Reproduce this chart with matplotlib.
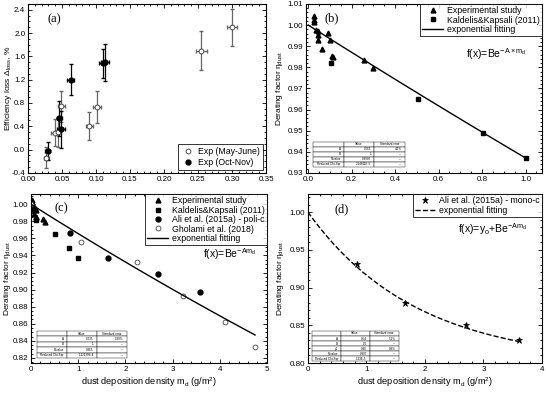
import numpy as np
import matplotlib.pyplot as plt

plt.rcParams['font.family'] = ['Liberation Sans', 'DejaVu Sans']
plt.rcParams['mathtext.fontset'] = 'custom'
plt.rcParams['mathtext.rm'] = 'Liberation Sans'
plt.rcParams['mathtext.it'] = 'Liberation Sans'

# (a) efficiency loss
may_x = [0.027, 0.039, 0.044, 0.049, 0.090, 0.102, 0.255, 0.300]
may_y = [-0.14, 0.29, 0.30, 0.74, 0.40, 0.73, 1.70, 2.10]
may_yerr = [0.18, 0.23, 0.25, 0.27, 0.24, 0.27, 0.33, 0.32]
may_xerr = [0.004, 0.005, 0.005, 0.005, 0.005, 0.006, 0.008, 0.008]
oct_x = [0.029, 0.046, 0.049, 0.063, 0.110, 0.113]
oct_y = [-0.02, 0.54, 0.35, 1.20, 1.48, 1.50]
oct_yerr = [0.15, 0.30, 0.32, 0.27, 0.25, 0.32]
oct_xerr = [0.004, 0.004, 0.006, 0.005, 0.005, 0.006]

# (b) derating factor, small densities
exp_x = [0.025, 0.027, 0.028, 0.038, 0.044, 0.045, 0.047, 0.062, 0.089, 0.102, 0.110, 0.113, 0.255, 0.300]
exp_y = [1.0045, 1.0015, 1.0022, 0.9975, 0.9972, 0.9955, 0.9930, 0.9885, 0.9962, 0.9930, 0.9855, 0.9850, 0.9833, 0.9795]
kal_x = [0.105, 0.505, 0.805, 1.0]
kal_y = [0.982, 0.965, 0.949, 0.937]
fit_b = {'A': 0.065, 'B': 1.0}

# (c) all data
ali_x = [0.0, 0.82, 1.63, 2.69, 3.59]
ali_y = [1.0, 0.966, 0.937, 0.918, 0.897]
gho_x = [0.0, 1.07, 2.25, 3.23, 4.12, 4.75]
gho_y = [1.0, 0.956, 0.932, 0.893, 0.862, 0.833]
fit_c = {'A': 0.035, 'B': 1.0}

# (d) mono-c
mono_x = [0.84, 1.66, 2.70, 3.60]
mono_y = [0.931, 0.880, 0.850, 0.830]
fit_d = {'A': 0.54, 'B': 0.2, 'y0': 0.80}

tab_b = [['A', '0.065', '4.2%'], ['B', '1', '---'], ['R-value', '0.9930', '---'],
         ['Reduced Chi-Sqr', '2.14811E-5', '---']]
tab_c = [['A', '0.035', '1.99%'], ['B', '1', '---'], ['R-value', '0.965', '---'],
         ['Reduced Chi-Sqr', '1.12139E-4', '---']]
tab_d = [['A', '0.54', '5.1%'], ['B', '0.2', '---'], ['y0', '0.80', '0.8%'],
         ['R-value', '0.997', '---'], ['Reduced Chi-Sqr', '1.33E-5', '---']]

fig = plt.figure(figsize=(5.46, 3.93), dpi=100)
axa = fig.add_axes([0.0513, 0.560, 0.436, 0.430])
axb = fig.add_axes([0.5604, 0.560, 0.432, 0.430])
axc = fig.add_axes([0.0568, 0.0763, 0.432, 0.430])
axd = fig.add_axes([0.564, 0.0763, 0.4287, 0.430])

fs = 5.8
lfs = 6.3
yfs = 6.0
for ax in [axa, axb, axc, axd]:
    ax.tick_params(direction='in', which='both', top=True, right=True, labelsize=fs,
                   length=3, width=0.6, pad=2)
    ax.tick_params(which='minor', length=1.6)
    ax.minorticks_on()
    for s in ax.spines.values():
        s.set_linewidth(0.8)

def legend(ax, loc, pad=0.0):
    lg = ax.legend(loc=loc, fontsize=lfs, frameon=True, fancybox=False, borderaxespad=pad,
                   handlelength=2.4, handletextpad=0.4, labelspacing=0.05, borderpad=0.25)
    lg.get_frame().set_edgecolor('black')
    lg.get_frame().set_linewidth(0.7)

def table(ax, rows, box):
    t = ax.table(cellText=rows, colLabels=['', 'Value', 'Standard error'],
                 bbox=box, cellLoc='right', zorder=5)
    t.auto_set_font_size(False)
    t.set_fontsize(2.2)
    for c in t.get_celld().values():
        c.set_linewidth(0.3)
        c.set_facecolor('white')

# (a)
axa.errorbar(may_x, may_y, yerr=may_yerr, xerr=may_xerr, fmt='none', ecolor='#666',
             elinewidth=0.9, capsize=1.6)
axa.errorbar(oct_x, oct_y, yerr=oct_yerr, xerr=oct_xerr, fmt='none', ecolor='black',
             elinewidth=0.9, capsize=1.6)
axa.plot(may_x, may_y, 'o', mfc='white', mec='#333', ms=3.5, mew=0.6, label='Exp (May-June)')
axa.plot(oct_x, oct_y, 'o', color='black', ms=3.5, label='Exp (Oct-Nov)')
axa.set_xlim(0, 0.35)
axa.set_ylim(-0.4, 2.5)
axa.set_xticks(np.arange(0, 0.351, 0.05))
axa.set_yticks(np.arange(-0.4, 2.41, 0.4))
axa.xaxis.set_major_formatter(plt.FormatStrFormatter('%.2f'))
axa.yaxis.set_major_formatter(plt.FormatStrFormatter('%.1f'))
axa.set_ylabel('Efficiency loss $\\Delta_{loss}$, %', fontsize=yfs)
axa.yaxis.set_label_coords(-0.059, 0.5)
axa.text(0.08, 0.89, '(a)', transform=axa.transAxes, fontsize=9, family='Liberation Serif')
lg = axa.legend(loc='lower right', fontsize=lfs, fancybox=False, borderaxespad=0.3,
                labelspacing=0.2, handletextpad=0.4, handlelength=1.5)
lg.get_frame().set_edgecolor('black')
lg.get_frame().set_linewidth(0.7)

# (b)
xb = np.linspace(0, 1.0, 50)
axb.plot(exp_x, exp_y, '^', color='black', ms=3.5, label='Experimental study')
axb.plot(kal_x, kal_y, 's', color='black', ms=3.2, label='Kaldelis&Kapsali (2011)')
axb.plot(xb, fit_b['B'] * np.exp(-fit_b['A'] * xb), '-', color='black', lw=1.0,
         label='exponential fitting')
axb.set_xlim(-0.01, 1.075)
axb.set_ylim(0.93, 1.01)
axb.set_xticks(np.arange(0, 1.01, 0.2))
axb.set_yticks(np.arange(0.93, 1.011, 0.01))
axb.xaxis.set_major_formatter(plt.FormatStrFormatter('%.1f'))
axb.yaxis.set_major_formatter(plt.FormatStrFormatter('%.2f'))
axb.set_ylabel('Derating factor $\\eta_{dust}$', fontsize=yfs)
axb.yaxis.set_label_coords(-0.09, 0.5)
axb.text(0.08, 0.90, '(b)', transform=axb.transAxes, fontsize=9, family='Liberation Serif')
axb.text(0.68, 0.68, 'f(x)=Be$^{-A\\times m_d}$', transform=axb.transAxes, fontsize=7.5)
legend(axb, 'upper right')
table(axb, tab_b, [0.03, 0.035, 0.39, 0.15])

# (c)
xc = np.linspace(0, 4.75, 80)
axc.plot(exp_x, exp_y, '^', color='black', ms=3.5, label='Experimental study')
axc.plot(kal_x, kal_y, 's', color='black', ms=3.2, label='Kaldelis&Kapsali (2011)')
axc.plot(ali_x, ali_y, 'o', color='black', ms=3.5, label='Ali et al. (2015a) - poli-c')
axc.plot(gho_x, gho_y, 'o', mfc='white', mec='#444', mew=0.6, ms=3.5, label='Gholami et al. (2018)')
axc.plot(xc, fit_c['B'] * np.exp(-fit_c['A'] * xc), '-', color='black', lw=1.0,
         label='exponential fitting')
axc.set_xlim(0, 5)
axc.set_ylim(0.814, 1.012)
axc.set_xticks(np.arange(0, 5.1, 1))
axc.set_yticks(np.arange(0.82, 1.001, 0.02))
axc.yaxis.set_major_formatter(plt.FormatStrFormatter('%.2f'))
axc.set_ylabel('Derating factor $\\eta_{dust}$', fontsize=yfs)
axc.yaxis.set_label_coords(-0.078, 0.5)
axc.set_xlabel('dust deposition density m$_d$ (g/m$^2$)', fontsize=lfs + 0.3, labelpad=2)
axc.text(0.10, 0.90, '(c)', transform=axc.transAxes, fontsize=9, family='Liberation Serif')
axc.text(0.73, 0.62, 'f(x)=Be$^{-Am_d}$', transform=axc.transAxes, fontsize=7.5)
legend(axc, 'upper right')
table(axc, tab_c, [0.025, 0.03, 0.38, 0.16])

# (d)
xd = np.linspace(0, 3.6, 80)
axd.plot(mono_x, mono_y, '*', color='black', ms=4.5, mew=0.5,
         label='Ali et al. (2015a) - mono-c')
axd.plot(xd, fit_d['y0'] + fit_d['B'] * np.exp(-fit_d['A'] * xd), '--', color='black',
         lw=1.0, label='exponential fitting')
axd.set_xlim(0, 4)
axd.set_ylim(0.80, 1.024)
axd.set_xticks(np.arange(0, 4.1, 1))
axd.set_yticks(np.arange(0.80, 1.001, 0.05))
axd.yaxis.set_major_formatter(plt.FormatStrFormatter('%.2f'))
axd.set_ylabel('Derating factor $\\eta_{dust}$', fontsize=yfs)
axd.yaxis.set_label_coords(-0.095, 0.5)
axd.set_xlabel('dust deposition density m$_d$ (g/m$^2$)', fontsize=lfs + 0.3, labelpad=2)
axd.text(0.115, 0.89, '(d)', transform=axd.transAxes, fontsize=9, family='Liberation Serif')
axd.text(0.64, 0.77, 'f(x)=y$_o$+Be$^{-Am_d}$', transform=axd.transAxes, fontsize=7.5)
legend(axd, 'upper right')
table(axd, tab_d, [0.017, 0.01, 0.37, 0.18])

fig.savefig('out.png', dpi=100)
